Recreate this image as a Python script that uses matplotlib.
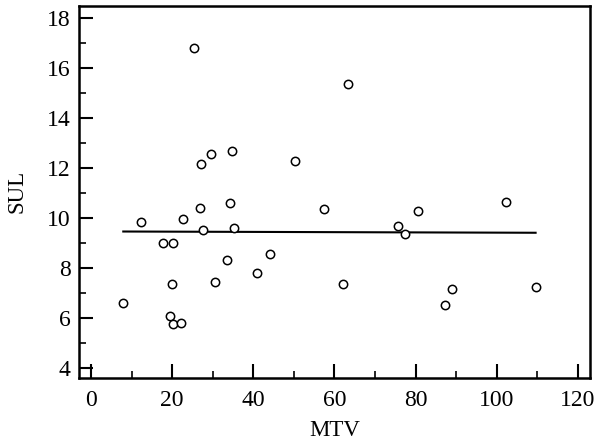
import numpy as np
import matplotlib.pyplot as plt
from matplotlib.ticker import MultipleLocator

# MTV vs SUL
mtv = [25.4, 27.05, 29.6, 34.75, 50.2, 26.8, 34.2, 12.3, 22.7,
       63.3, 57.4, 80.6, 102.4,
       27.5, 35.3, 17.8, 20.2, 33.5, 44.2, 41.0, 30.5, 19.85, 7.95,
       19.4, 20.3, 22.1,
       75.7, 77.5, 62.1, 89.0, 87.3, 109.6]
sul = [16.8, 12.15, 12.57, 12.69, 12.29, 10.41, 10.61, 9.86, 9.98,
       15.38, 10.36, 10.28, 10.63,
       9.54, 9.62, 8.98, 8.98, 8.31, 8.57, 7.79, 7.45, 7.36, 6.6,
       6.09, 5.77, 5.78,
       9.69, 9.36, 7.37, 7.16, 6.52, 7.25]

# fitted line ends
fit_x = [7.95, 109.6]
fit_y = [9.46, 9.41]

plt.rcParams['font.family'] = ['Liberation Serif', 'DejaVu Serif']

fig = plt.figure(figsize=(6.02, 4.44), dpi=100)
ax = fig.add_axes([0.131, 0.149, 0.849, 0.838])

ax.plot(mtv, sul, 'o', mfc='white', mec='black', ms=6, mew=1.1, zorder=3)
ax.plot(fit_x, fit_y, color='black', lw=1.5, zorder=2)

ax.set_xlim(-3, 123)
ax.set_ylim(3.6, 18.5)
ax.xaxis.set_major_locator(MultipleLocator(20))
ax.xaxis.set_minor_locator(MultipleLocator(10))
ax.yaxis.set_major_locator(MultipleLocator(2))
ax.yaxis.set_minor_locator(MultipleLocator(1))
ax.tick_params(which='both', direction='in', labelsize=17)
ax.tick_params(axis='x', pad=9)
ax.tick_params(axis='y', pad=6)
ax.tick_params(which='major', length=10, width=1.5)
ax.tick_params(which='minor', length=5, width=1.2)

for s in ax.spines.values():
    s.set_linewidth(1.8)

ax.set_xlabel('MTV', fontsize=16.5, labelpad=6)
ax.set_ylabel('SUL', fontsize=16.5, labelpad=14)

fig.savefig('out.png', dpi=100)
